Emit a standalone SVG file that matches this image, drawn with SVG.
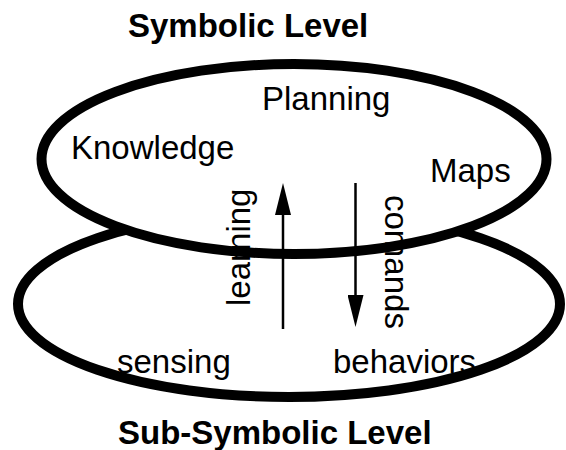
<svg xmlns="http://www.w3.org/2000/svg" width="566" height="450" viewBox="0 0 566 450">
  <style>
    .level { fill: #fff; stroke: #000; stroke-width: 10; }
    .title { font-family: "Liberation Sans", Arial, sans-serif; font-size: 33px; font-weight: bold; fill: #000; }
    .label { font-family: "Liberation Sans", Arial, sans-serif; font-size: 33px; fill: #000; }
    .flow { stroke: #000; stroke-width: 2.5; fill: none; }
  </style>
  <defs>
    <marker id="head" viewBox="0 0 32 16" refX="15" refY="8" markerWidth="32" markerHeight="16" markerUnits="userSpaceOnUse" orient="auto">
      <path d="M0,0 L32,8 L0,16 Z" fill="#000"/>
    </marker>
  </defs>
  <rect width="566" height="450" fill="#fff"/>

  <!-- lower layer: drawn first so the upper disc covers its back edge -->
  <g id="subsymbolic">
    <ellipse class="level" cx="289" cy="304" rx="271" ry="93"/>
    <text class="label" x="117" y="373">sensing</text>
    <text class="label" x="333" y="373">behaviors</text>
    <text class="title" x="118" y="444">Sub-Symbolic Level</text>
  </g>

  <!-- upper layer -->
  <g id="symbolic">
    <ellipse class="level" cx="294" cy="159" rx="252.5" ry="95"/>
    <text class="title" x="128" y="37">Symbolic Level</text>
    <text class="label" x="262" y="110">Planning</text>
    <text class="label" x="71" y="159">Knowledge</text>
    <text class="label" x="430" y="182">Maps</text>
  </g>

  <!-- flows between the layers -->
  <g id="connectors">
    <line class="flow" x1="283" y1="329" x2="283" y2="200" marker-end="url(#head)"/>
    <text class="label" transform="translate(250,306) rotate(-90)">learning</text>
    <line class="flow" x1="355.5" y1="183" x2="355.5" y2="310" marker-end="url(#head)"/>
    <text class="label" transform="translate(385,195) rotate(90)">comands</text>
  </g>
</svg>
